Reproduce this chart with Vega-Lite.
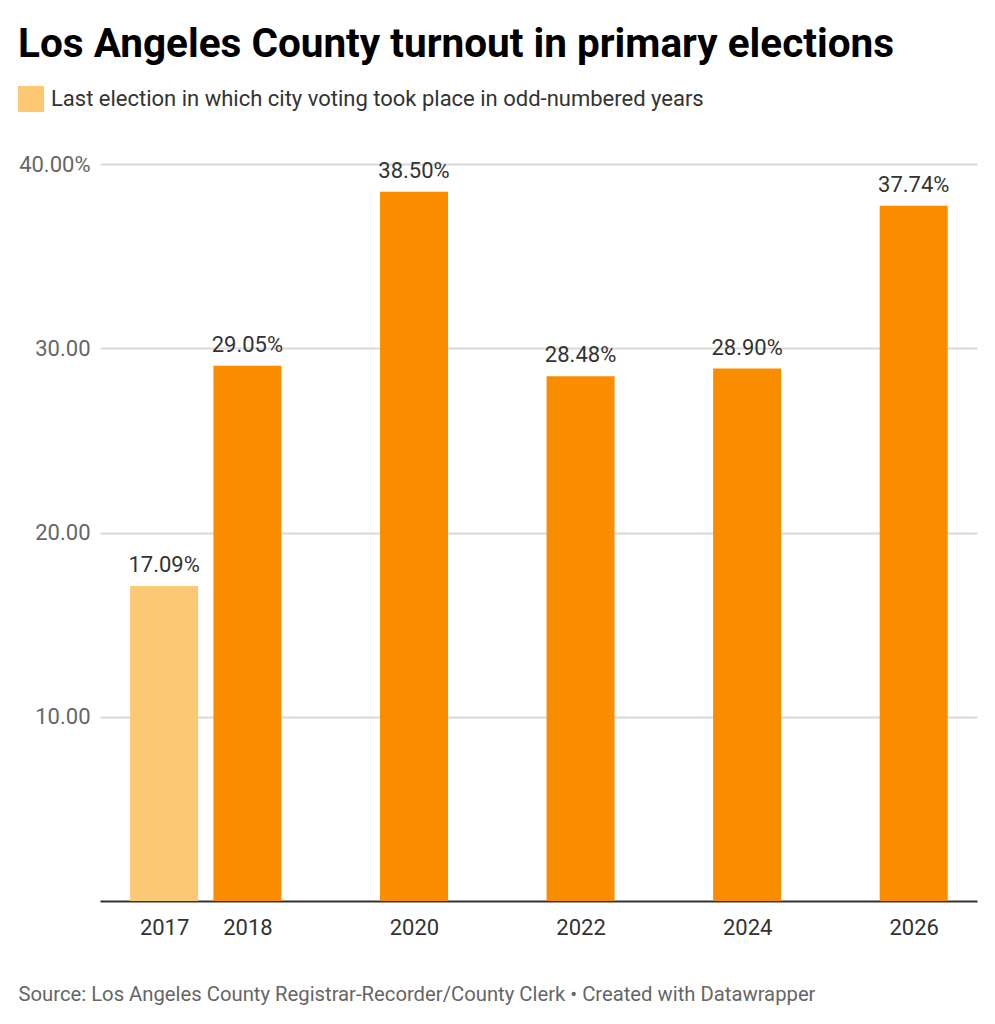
{
  "$schema": "https://vega.github.io/schema/vega-lite/v6.json",
  "autosize": {"type": "none"},
  "width": 877,
  "height": 737,
  "padding": {"left": 100, "top": 164, "right": 18, "bottom": 123},
  "background": "#ffffff",
  "title": {
    "text": "Los Angeles County turnout in primary elections",
    "anchor": "start",
    "frame": "group",
    "dx": -82,
    "offset": 21,
    "font": "Roboto",
    "fontSize": 40.5,
    "fontWeight": "bold",
    "color": "#000000"
  },
  "data": {
    "values": [
      {"year": 2017, "turnout": 17.09, "group": "Last election in which city voting took place in odd-numbered years"},
      {"year": 2018, "turnout": 29.05, "group": "Even-year election"},
      {"year": 2020, "turnout": 38.50, "group": "Even-year election"},
      {"year": 2022, "turnout": 28.48, "group": "Even-year election"},
      {"year": 2024, "turnout": 28.90, "group": "Even-year election"},
      {"year": 2026, "turnout": 37.74, "group": "Even-year election"}
    ]
  },
  "encoding": {
    "x": {
      "field": "year",
      "type": "quantitative",
      "scale": {"domain": [2016.23, 2026.76], "nice": false, "zero": false, "padding": 0},
      "axis": {
        "values": [2017, 2018, 2020, 2022, 2024, 2026],
        "format": "d",
        "grid": false,
        "ticks": false,
        "domain": true,
        "domainColor": "#333333",
        "domainWidth": 2,
        "labelFont": "Roboto",
        "labelFontSize": 22,
        "labelColor": "#333333",
        "labelPadding": 16,
        "labelFlush": false,
        "title": "Source: Los Angeles County Registrar-Recorder/County Clerk • Created with Datawrapper",
        "titleFont": "Roboto",
        "titleFontSize": 20.25,
        "titleFontWeight": "normal",
        "titleColor": "#666666",
        "titleAlign": "left",
        "titleAnchor": "start",
        "titleBaseline": "alphabetic",
        "titleX": -82,
        "titleY": 99
      }
    },
    "y": {
      "field": "turnout",
      "type": "quantitative",
      "scale": {"domain": [0, 40], "nice": false},
      "axis": {
        "values": [10, 20, 30, 40],
        "labelExpr": "datum.value == 40 ? '40.00%' : format(datum.value, '.2f')",
        "grid": true,
        "gridColor": "#d9d9d9",
        "gridWidth": 2,
        "domain": false,
        "ticks": false,
        "labelFont": "Roboto",
        "labelFontSize": 22,
        "labelColor": "#666666",
        "labelPadding": 10,
        "title": null
      }
    }
  },
  "layer": [
    {
      "mark": {"type": "bar", "width": 68},
      "encoding": {
        "color": {
          "field": "group",
          "type": "nominal",
          "scale": {
            "domain": ["Last election in which city voting took place in odd-numbered years", "Even-year election"],
            "range": ["#fdc874", "#fa8c00"]
          },
          "legend": {
            "values": ["Last election in which city voting took place in odd-numbered years"],
            "orient": "none",
            "legendX": -82,
            "legendY": -78,
            "title": null,
            "symbolType": "square",
            "symbolSize": 676,
            "symbolStrokeWidth": 0,
            "symbolOpacity": 1,
            "labelFont": "Roboto",
            "labelFontSize": 22,
            "labelColor": "#333333",
            "labelOffset": 7,
            "labelLimit": 900,
            "padding": 0
          }
        }
      }
    },
    {
      "mark": {
        "type": "text",
        "dy": -14,
        "baseline": "alphabetic",
        "align": "center",
        "font": "Roboto",
        "fontSize": 22,
        "color": "#333333",
        "text": {"expr": "format(datum.turnout, '.2f') + '%'"}
      }
    }
  ],
  "config": {
    "view": {"stroke": null}
  }
}
